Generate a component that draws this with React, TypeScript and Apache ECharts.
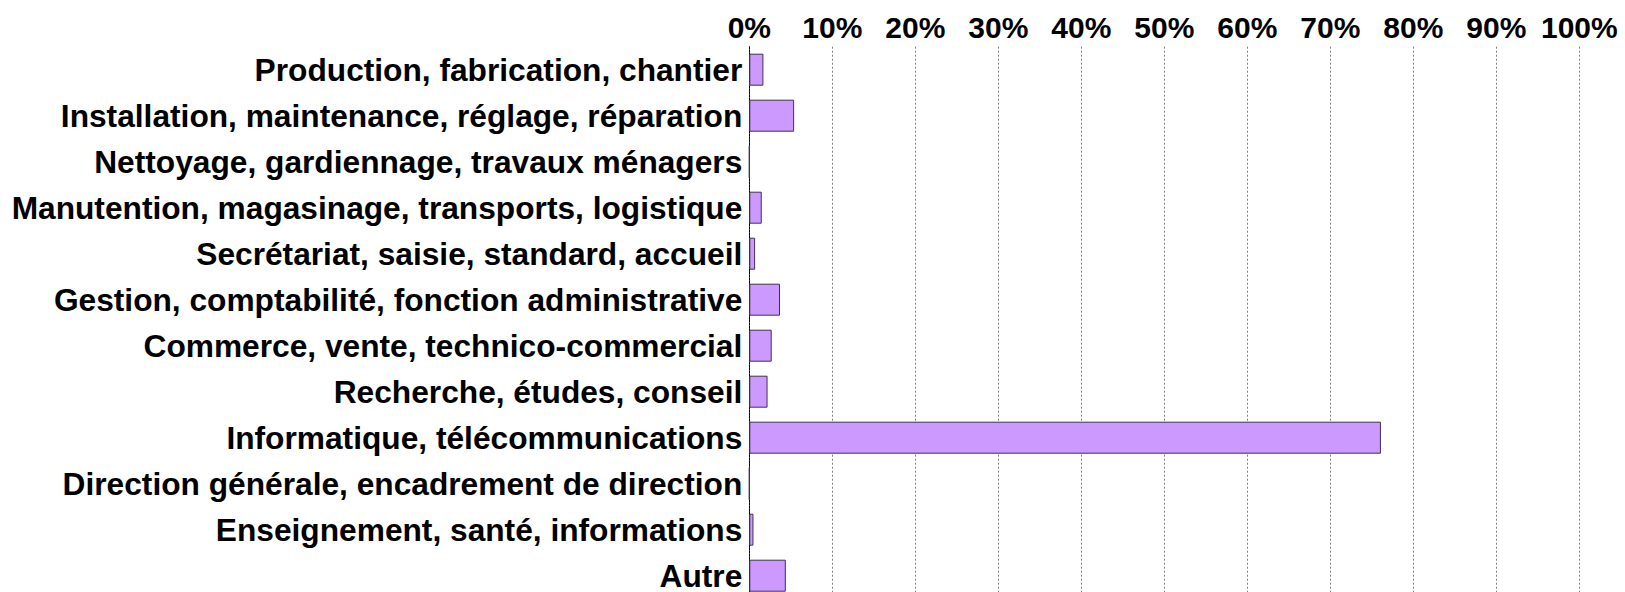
import React, { useEffect, useRef } from "react";
import * as echarts from "echarts";

const categories = [
  "Production, fabrication, chantier",
  "Installation, maintenance, réglage, réparation",
  "Nettoyage, gardiennage, travaux ménagers",
  "Manutention, magasinage, transports, logistique",
  "Secrétariat, saisie, standard, accueil",
  "Gestion, comptabilité, fonction administrative",
  "Commerce, vente, technico-commercial",
  "Recherche, études, conseil",
  "Informatique, télécommunications",
  "Direction générale, encadrement de direction",
  "Enseignement, santé, informations",
  "Autre",
];

const values = [1.7, 5.4, 0, 1.5, 0.7, 3.7, 2.7, 2.2, 76.1, 0, 0.5, 4.4];

const FONT = "'Liberation Sans', Arial, Helvetica, sans-serif";

export default function App() {
  const ref = useRef<HTMLDivElement>(null);

  useEffect(() => {
    if (!ref.current) return;
    const chart = echarts.init(ref.current, undefined, { renderer: "svg" });
    chart.setOption({
      animation: false,
      backgroundColor: "#ffffff",
      grid: {
        left: 749.3,
        right: 45.7,
        top: 46.7,
        height: 552,
        containLabel: false,
        outerBoundsMode: "none",
      },
      xAxis: {
        type: "value",
        position: "top",
        min: 0,
        max: 100,
        interval: 10,
        axisLine: { show: false },
        axisTick: { show: false },
        axisLabel: {
          formatter: "{value}%",
          color: "#000",
          fontFamily: FONT,
          fontWeight: "bold",
          fontSize: 30,
          margin: 4,
        },
        splitLine: {
          show: true,
          lineStyle: { color: "#808080", type: [2, 2], width: 1 },
        },
      },
      yAxis: {
        type: "category",
        data: categories,
        inverse: true,
        axisLine: {
          show: true,
          lineStyle: { color: "#000", type: [2, 1], width: 1 },
        },
        axisTick: { show: false },
        axisLabel: {
          color: "#000",
          fontFamily: FONT,
          fontWeight: "bold",
          fontSize: 31.7,
          margin: 7,
        },
        splitLine: { show: false },
      },
      series: [
        {
          type: "bar",
          data: values,
          barWidth: 32,
          itemStyle: {
            color: "#cc99ff",
            borderColor: "#3f3350",
            borderWidth: 1,
          },
        },
      ],
    });
    return () => chart.dispose();
  }, []);

  return (
    <div
      ref={ref}
      style={{ position: "fixed", left: 0, top: 0, width: 1625, height: 592 }}
    />
  );
}
